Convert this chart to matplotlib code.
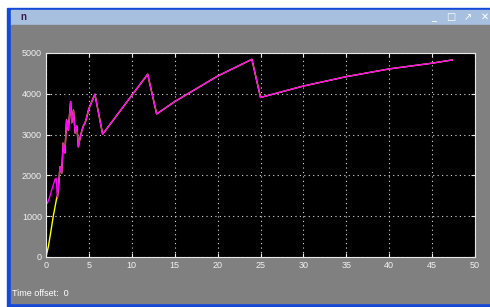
import matplotlib
matplotlib.use("Agg")
import matplotlib.pyplot as plt
from matplotlib.patches import Rectangle

# scope traces
t_yellow = [0, 0.27, 0.47, 0.85, 1.24, 1.32]
n_yellow = [0, 250, 500, 1000, 1440, 1480]

t_magenta = [0, 0.15, 0.4, 0.66, 0.9, 1.05, 1.2, 1.32, 1.45, 1.63, 1.83, 2.0, 2.2,
             2.4, 2.6, 2.87, 3.0, 3.2, 3.4, 3.6, 3.77, 4.0, 4.2, 4.35, 4.56, 4.75,
             4.95, 5.1, 5.7, 6.6, 11.85, 12.9, 15, 20, 24.0, 25.0, 30, 35, 40, 45, 47.35]
n_magenta = [1355, 1315, 1450, 1640, 1800, 1905, 1930, 1440, 1700, 2210, 2060, 2790, 2550,
             3360, 3110, 3810, 3290, 3600, 3040, 3210, 2700, 2950, 3110, 3210, 3290, 3430,
             3600, 3690, 3990, 3010, 4480, 3505, 3810, 4435, 4845, 3910, 4190, 4420, 4610, 4750, 4830]

x_ticks = list(range(0, 51, 5))
y_ticks = list(range(0, 5001, 1000))

W, H = 490, 307
plt.rcParams['font.family'] = ['Liberation Sans', 'DejaVu Sans']

fig = plt.figure(figsize=(W / 100, H / 100), dpi=100)
fig.patch.set_facecolor('white')

def px(x, y, w, h, color):
    # rectangle in pixel coords (top-left origin)
    fig.patches.append(Rectangle((x / W, 1 - (y + h) / H), w / W, h / H,
                                 transform=fig.transFigure, color=color, zorder=-5))

px(7, 8, W - 7, H - 8, '#1448D8')       # blue window frame
px(11, 10, W - 11, 15, '#A8C0DF')       # title bar
px(11, 25, W - 11, H - 25 - 4, '#808080')  # gray scope body

fig.text(20 / W, 1 - 17.5 / H, 'n', color='#3A1850', fontsize=7, fontweight='bold', va='center')
for x, s in [(434, '_'), (451, '□'), (468, '↗'), (485, '✕')]:
    fig.text(x / W, 1 - 17 / H, s, color='white', fontsize=7, ha='center', va='center',
             family=['DejaVu Sans'])
fig.text(12 / W, 1 - 293 / H, 'Time offset:  0', color='white', fontsize=6.5, va='center')

ax = fig.add_axes([46 / W, 1 - 257 / H, (475 - 46) / W, (257 - 53) / H])
ax.set_zorder(5)
ax.set_facecolor('black')
ax.plot(t_yellow + t_magenta[7:], n_yellow + n_magenta[7:], color='#FFFF00', lw=1.0)
ax.plot(t_magenta, n_magenta, color='#FF00FF', lw=1.0)

ax.set_xlim(0, 50)
ax.set_ylim(0, 5000)
ax.set_xticks(x_ticks)
ax.set_yticks(y_ticks)
ax.grid(True, color='#D8D8D8', linestyle=(0, (1, 3)), linewidth=0.8)
for s in ax.spines.values():
    s.set_color('#E8E8E8')
    s.set_linewidth(0.8)
ax.tick_params(direction='in', length=3, width=0.8, color='#E8E8E8', labelcolor='#F0F0F0',
               labelsize=6.5, top=True, right=True, pad=3)

fig.savefig('out.png', dpi=100, facecolor=fig.get_facecolor())
